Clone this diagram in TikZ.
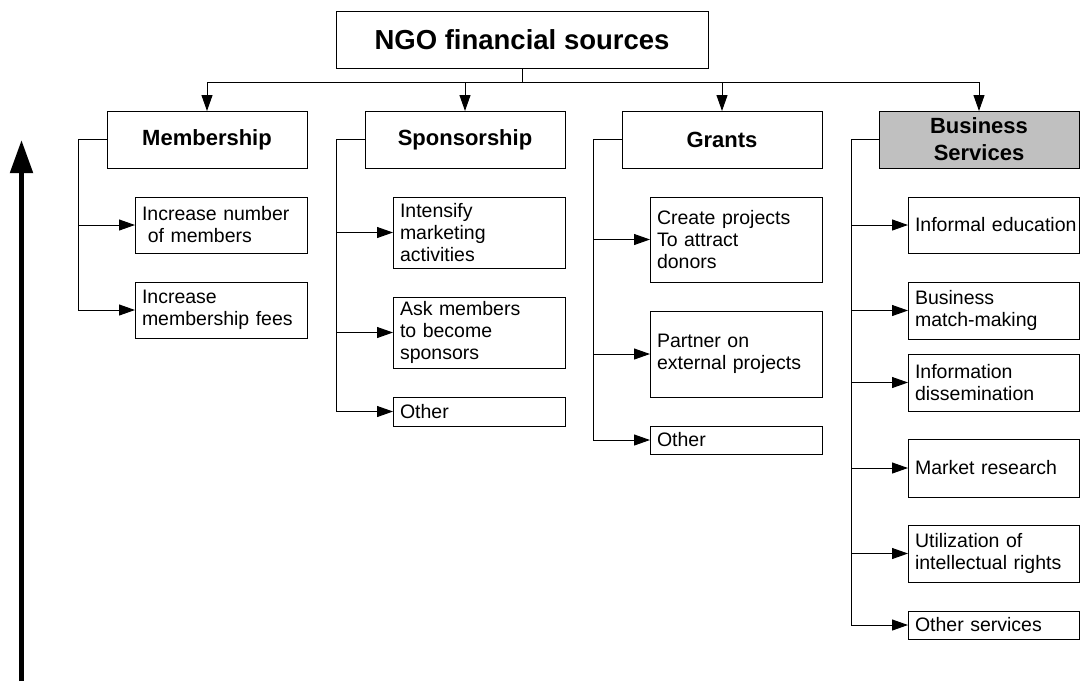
\documentclass[tikz,border=0pt]{standalone}
\usepackage{fontspec}
\setmainfont{Liberation Sans}
\usetikzlibrary{arrows.meta}
\definecolor{hdrgray}{RGB}{192,192,192}
% leaf box: name, x, y, width, height, text
\newcommand\leafbox[6]{%
  \pgfmathsetmacro\lbw{#4-14}%
  \node[childbox, minimum width=#4, minimum height=#5, text width=\lbw pt] (#1) at (#2,#3) {#6};}
\begin{document}
\begin{tikzpicture}[x=1pt,y=-1pt,
  box/.style={draw=black, line width=1pt, rectangle, outer sep=0pt, anchor=north west},
  titlebox/.style={box, font=\fontsize{27.5}{32}\selectfont\bfseries, align=center},
  hdrbox/.style={box, font=\fontsize{22}{27}\selectfont\bfseries, align=center, inner sep=0pt},
  childbox/.style={box, font=\fontsize{19.5}{22}\selectfont, align=left, inner xsep=7pt, inner ysep=0pt},
  link/.style={line width=1pt, draw=black},
  arr/.style={link, -{Triangle[length=16pt,width=11pt]}},
]
\useasboundingbox (0,0) rectangle (1081,681);

% root
\node[titlebox, minimum width=372, minimum height=57] (top) at (336,11) {NGO financial sources};

% categories
\node[hdrbox, minimum width=200, minimum height=57] (mem) at (107,111) {Membership};
\node[hdrbox, minimum width=200, minimum height=57] (spo) at (365,111) {Sponsorship};
\node[hdrbox, minimum width=200, minimum height=57] (gra) at (622,111) {Grants};
\node[hdrbox, minimum width=200, minimum height=57, fill=hdrgray] (biz) at (879,111) {Business\\Services};

% membership
\leafbox{m1}{135}{197}{172}{56}{Increase number\\\hspace*{0.3em}of members}
\leafbox{m2}{135}{282}{172}{56}{Increase\\membership fees}

% sponsorship
\leafbox{s1}{393}{197}{172}{71}{Intensify\\marketing\\activities}
\leafbox{s2}{393}{297}{172}{71}{Ask members\\to become\\sponsors}
\leafbox{s3}{393}{397}{172}{29}{Other}

% grants
\leafbox{g1}{650}{197}{172}{85}{Create projects\\To attract\\donors}
\leafbox{g2}{650}{311}{172}{86}{Partner on\\external projects}
\leafbox{g3}{650}{426}{172}{28}{Other}

% business services
\leafbox{b1}{908}{197}{171}{56}{\mbox{Informal education}}
\leafbox{b2}{908}{282}{171}{57}{Business\\match-making}
\leafbox{b3}{908}{354}{171}{57}{Information\\dissemination}
\leafbox{b4}{908}{439}{171}{58}{Market research}
\leafbox{b5}{908}{525}{171}{57}{Utilization of\\intellectual rights}
\leafbox{b6}{908}{611}{171}{28}{Other services}

% root to categories
\coordinate (split) at (522,82);
\draw[link] (top.south) -- (split);
\foreach \h in {mem,spo,gra,biz} \draw[arr] (split) -| (\h.north);

% categories to items
\foreach \c in {m1,m2} \draw[arr] (mem.west) -- ++(-29,0) |- (\c.west);
\foreach \c in {s1,s2,s3} \draw[arr] (spo.west) -- ++(-29,0) |- (\c.west);
\foreach \c in {g1,g2,g3} \draw[arr] (gra.west) -- ++(-29,0) |- (\c.west);
\foreach \c in {b1,b2,b3,b4,b5,b6} \draw[arr] (biz.west) -- ++(-28,0) |- (\c.west);

% upward arrow
\coordinate (upfoot) at (21.5,681);
\coordinate (uphead) at (21.5,140);
\draw[line width=5pt, -{Triangle[length=33pt,width=22pt]}] (upfoot) -- (uphead);
\end{tikzpicture}
\end{document}
